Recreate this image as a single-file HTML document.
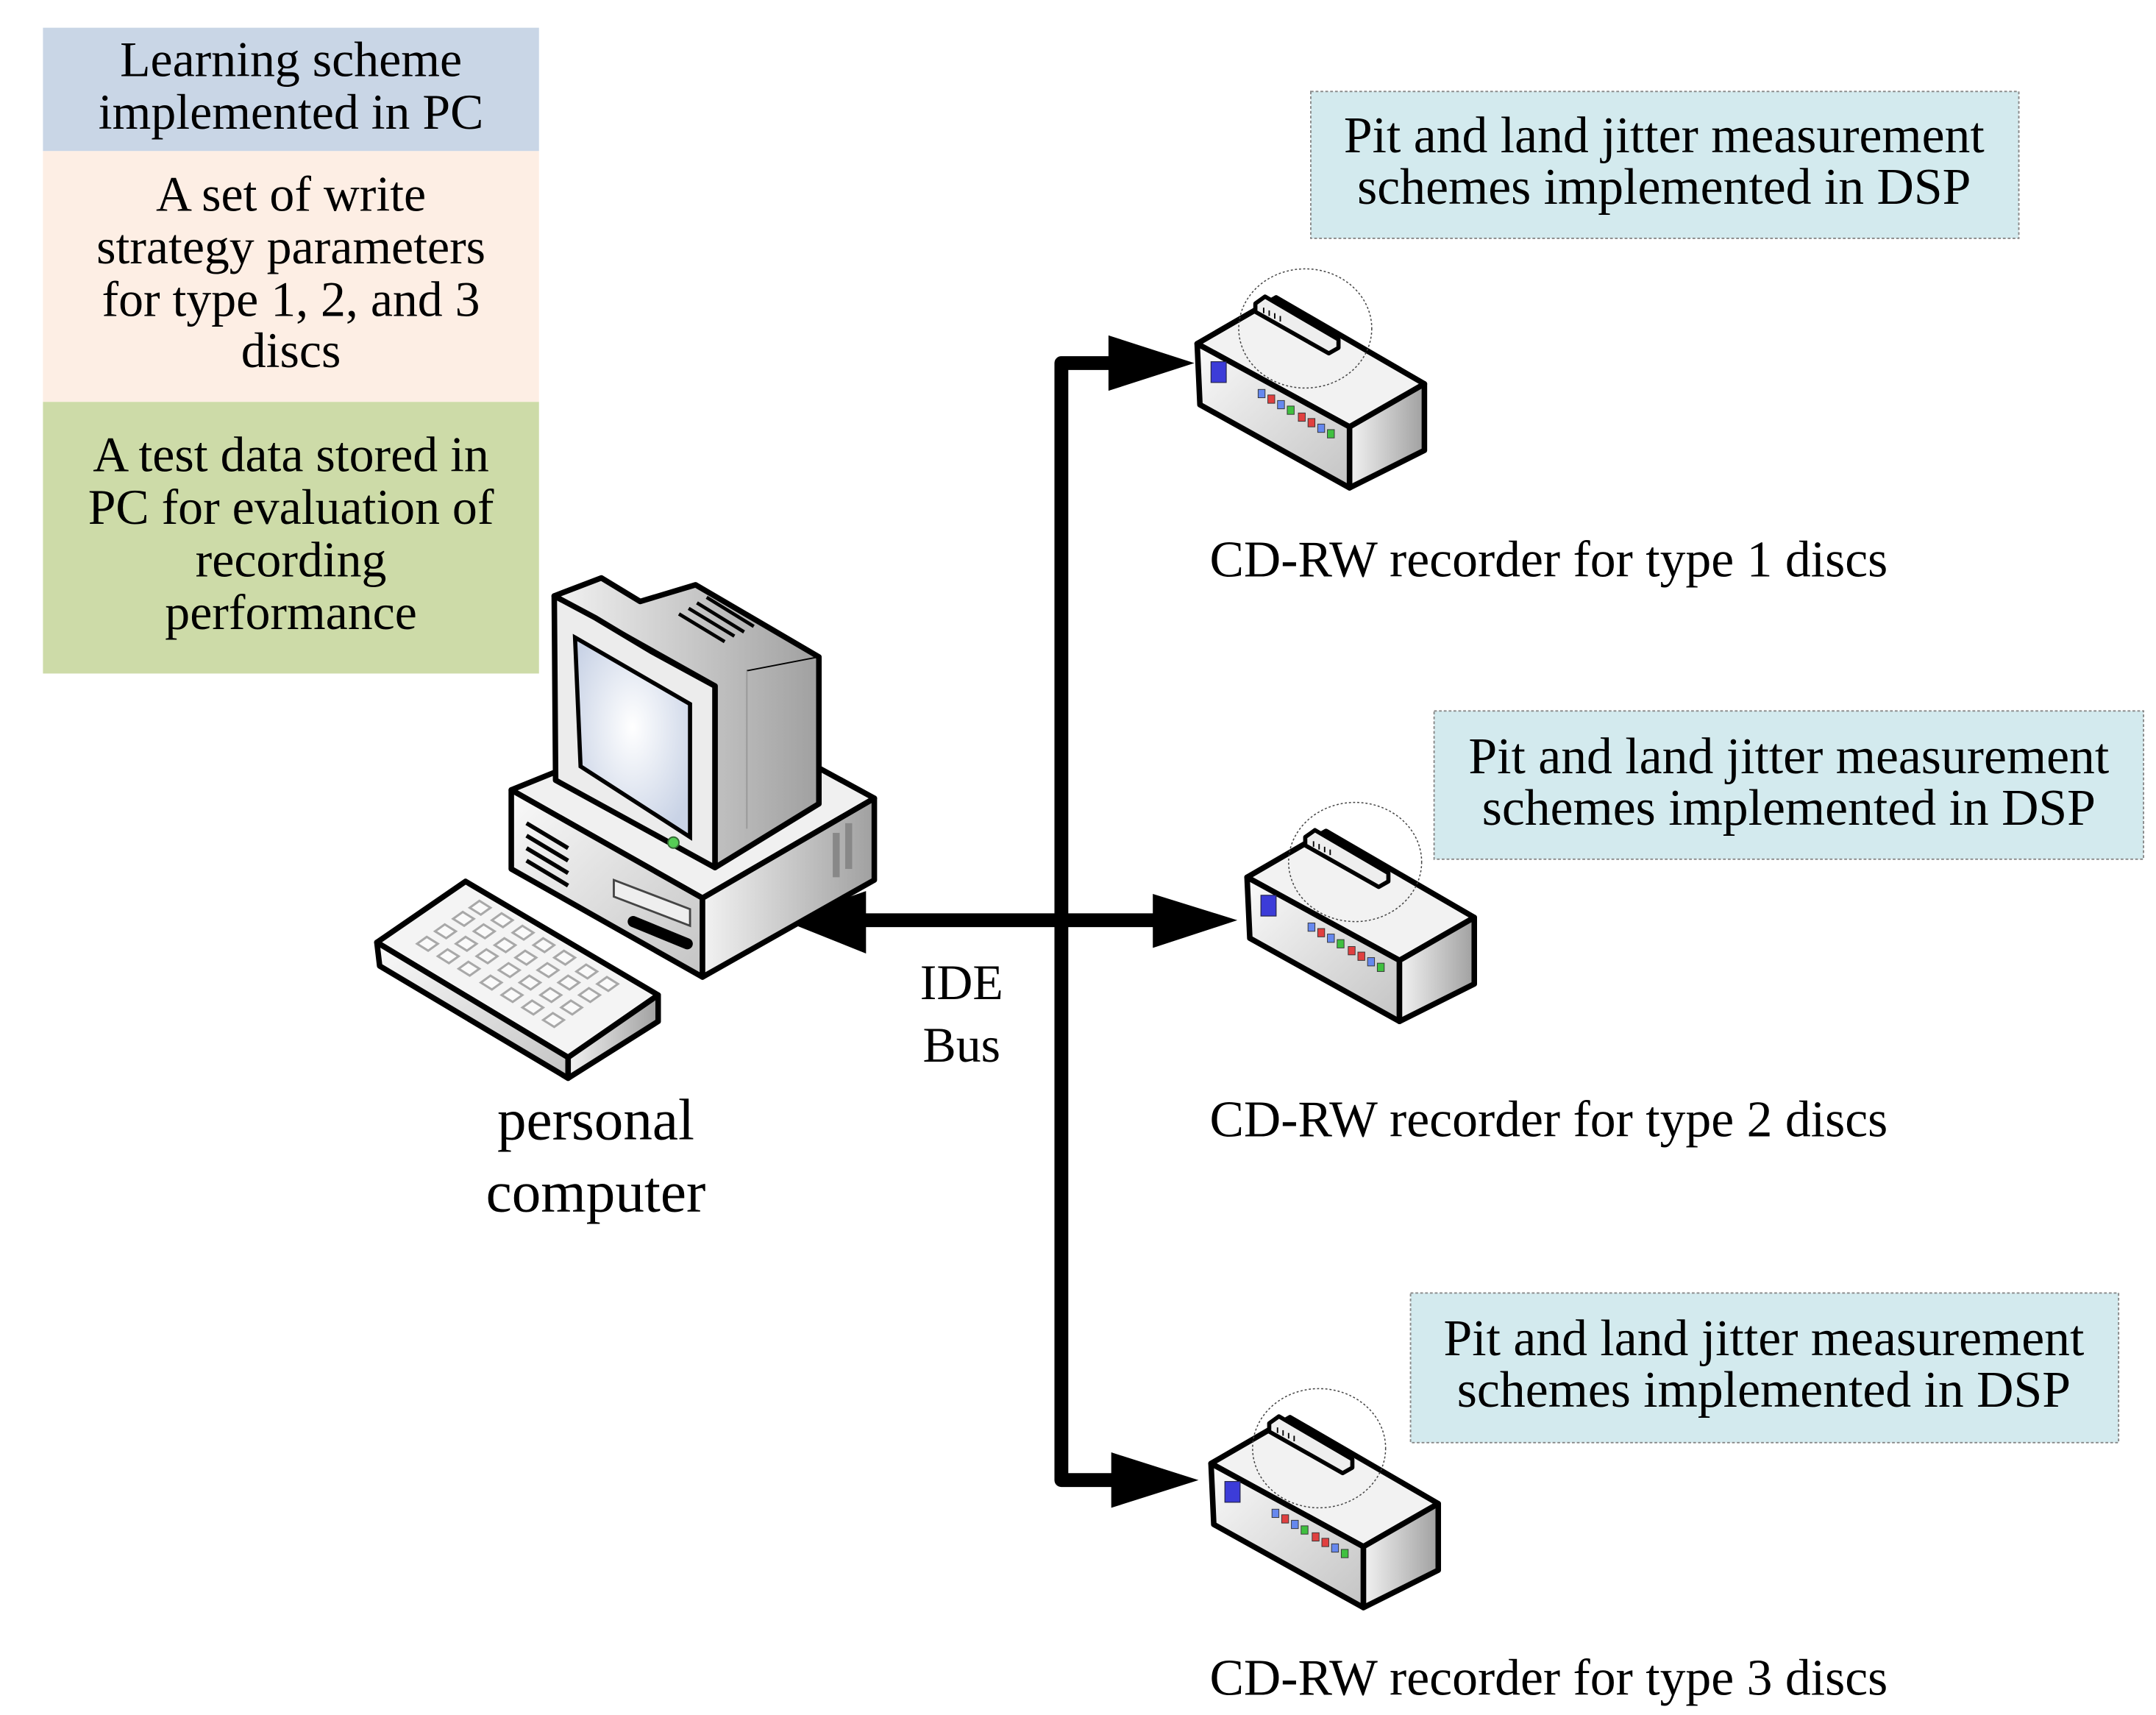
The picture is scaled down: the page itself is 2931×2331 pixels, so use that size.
<!DOCTYPE html>
<html><head><style>html,body{margin:0;padding:0;background:#fff}svg{display:block}</style></head>
<body>
<svg width="2931" height="2331" viewBox="0 0 1556 1237.5" preserveAspectRatio="none" xmlns="http://www.w3.org/2000/svg">
<defs>
<linearGradient id="g1" x1="0" y1="0" x2="1" y2="1"><stop offset="0" stop-color="#fafafa"/><stop offset="1" stop-color="#c4c4c4"/></linearGradient>
<linearGradient id="g2" x1="0" y1="0" x2="1" y2="0"><stop offset="0" stop-color="#f2f2f2"/><stop offset="1" stop-color="#a0a0a0"/></linearGradient>
<radialGradient id="scr" cx="0.5" cy="0.45" r="0.6"><stop offset="0" stop-color="#ffffff"/><stop offset="1" stop-color="#c9d3e6"/></radialGradient>
<polygon id="key" points="0,0 8,5 15,0 7,-5" fill="#fafafa" stroke="#a8a8a8" stroke-width="1.6"/>
<g id="rec">
<polygon points="864,248 921,215 1028,277 974,308" fill="#f2f2f2" stroke="#000" stroke-width="4" stroke-linejoin="round"/>
<polygon points="864,248 974,308 974,352 866,292" fill="url(#g1)" stroke="#000" stroke-width="4" stroke-linejoin="round"/>
<polygon points="974,308 1028,277 1028,325 974,352" fill="url(#g2)" stroke="#000" stroke-width="4" stroke-linejoin="round"/>
<polygon points="906,219 913,214 966,245 966,251 959,255 906,225" fill="#eee" stroke="#000" stroke-width="3" stroke-linejoin="round"/>
<g stroke="#000" stroke-width="1"><line x1="912" y1="222" x2="912" y2="226"/><line x1="916" y1="224" x2="916" y2="228"/><line x1="920" y1="226" x2="920" y2="230"/><line x1="924" y1="228" x2="924" y2="232"/></g>
<ellipse cx="942" cy="237" rx="48" ry="43" fill="none" stroke="#444" stroke-width="0.8" stroke-dasharray="1.5,1.5"/>
<rect x="874" y="261" width="11" height="15" fill="#3c3cd8" stroke="#224" stroke-width="0.6"/>
<g stroke="#333" stroke-width="0.5">
<rect x="908" y="281" width="5" height="6" fill="#6688ee"/><rect x="915" y="285" width="5" height="6" fill="#e04040"/>
<rect x="922" y="289" width="5" height="6" fill="#6688ee"/><rect x="929" y="293" width="5" height="6" fill="#40c040"/>
<rect x="937" y="298" width="5" height="6" fill="#e04040"/><rect x="944" y="302" width="5" height="6" fill="#e04040"/>
<rect x="951" y="306" width="5" height="6" fill="#6688ee"/><rect x="958" y="310" width="5" height="6" fill="#40c040"/>
</g>
</g>
</defs>
<rect width="1556" height="1237.5" fill="#fff"/>
<rect x="31" y="20" width="358" height="89" fill="#c9d6e6"/>
<rect x="31" y="109" width="358" height="181" fill="#fdeee4"/>
<rect x="31" y="290" width="358" height="196" fill="#cddba8"/>
<g font-family="Liberation Serif, serif" font-size="36" text-anchor="middle" fill="#000">
<text x="210" y="55">Learning scheme</text>
<text x="210" y="93">implemented in PC</text>
<text x="210" y="152">A set of write</text>
<text x="210" y="190">strategy parameters</text>
<text x="210" y="228">for type 1, 2, and 3</text>
<text x="210" y="265">discs</text>
<text x="210" y="340">A test data stored in</text>
<text x="210" y="378">PC for evaluation of</text>
<text x="210" y="416">recording</text>
<text x="210" y="454">performance</text>
</g>
<g fill="#d3eaee" stroke="#888" stroke-width="1" stroke-dasharray="2,1.5">
<rect x="946" y="66" width="511" height="106"/>
<rect x="1035" y="513" width="512" height="107"/>
<rect x="1018" y="933" width="511" height="108"/>
</g>
<g font-family="Liberation Serif, serif" font-size="37" text-anchor="middle" fill="#000">
<text x="1201" y="110">Pit and land jitter measurement</text>
<text x="1201" y="147">schemes implemented in DSP</text>
<text x="1291" y="558">Pit and land jitter measurement</text>
<text x="1291" y="595">schemes implemented in DSP</text>
<text x="1273" y="978">Pit and land jitter measurement</text>
<text x="1273" y="1015">schemes implemented in DSP</text>
</g>
<g font-family="Liberation Serif, serif" font-size="37" fill="#000">
<text x="873" y="416">CD-RW recorder for type 1 discs</text>
<text x="873" y="820">CD-RW recorder for type 2 discs</text>
<text x="873" y="1223">CD-RW recorder for type 3 discs</text>
</g>
<g font-family="Liberation Serif, serif" font-size="36" text-anchor="middle">
<text x="694" y="721">IDE</text><text x="694" y="766">Bus</text>
</g>
<g font-family="Liberation Serif, serif" font-size="42" text-anchor="middle">
<text x="430" y="822">personal</text><text x="430" y="874">computer</text>
</g>
<path d="M805,262 H766 V1068 H805" fill="none" stroke="#000" stroke-width="10" stroke-linejoin="round"/>
<line x1="620" y1="664" x2="835" y2="664" stroke="#000" stroke-width="10"/>
<polygon points="800,242 862,262 800,282" fill="#000"/>
<polygon points="832,645 893,664 832,684" fill="#000"/>
<polygon points="625,643 565,664 625,688" fill="#000"/>
<polygon points="802,1048 865,1068 802,1088" fill="#000"/>
<use href="#rec"/>
<use href="#rec" transform="translate(36,385)"/>
<use href="#rec" transform="translate(10,808)"/>
<g stroke="#000" stroke-width="4" stroke-linejoin="round">
<polygon points="369,570 401,557 587,552 631,576 507,648" fill="#f0f0f0"/>
<polygon points="369,570 507,648 507,705 369,627" fill="url(#g1)"/>
<polygon points="507,648 631,576 631,635 507,705" fill="url(#g2)"/>
</g>
<g stroke="#000" stroke-width="3">
<line x1="380" y1="594" x2="410" y2="612"/><line x1="380" y1="603" x2="410" y2="621"/>
<line x1="380" y1="612" x2="410" y2="630"/><line x1="380" y1="621" x2="410" y2="639"/>
</g>
<polygon points="443,635 498,656 498,668 443,647" fill="#eee" stroke="#444" stroke-width="1.5"/>
<line x1="457" y1="665" x2="496" y2="681" stroke="#000" stroke-width="8" stroke-linecap="round"/>
<rect x="601" y="601" width="5" height="32" fill="#888"/><rect x="610" y="594" width="5" height="33" fill="#888"/>
<g stroke="#000" stroke-width="4" stroke-linejoin="round">
<polygon points="400,430 434,417 462,434 502,422 591,474 591,580 516,626 516,495" fill="url(#g2)"/>
<polygon points="400,430 430,446 470,470 516,495 516,626 401,563" fill="#ececec"/>
</g>
<line x1="539" y1="484" x2="591" y2="474" stroke="#000" stroke-width="1"/>
<line x1="539" y1="484" x2="539" y2="598" stroke="#999" stroke-width="1"/>
<polygon points="415,460 498,508 498,604 419,553" fill="url(#scr)" stroke="#000" stroke-width="3"/>
<circle cx="486" cy="608" r="4" fill="#5c5" stroke="#363" stroke-width="1"/>
<g stroke="#000" stroke-width="2.5">
<line x1="490" y1="443" x2="523" y2="463"/><line x1="497" y1="439" x2="530" y2="459"/>
<line x1="503" y1="435" x2="537" y2="456"/><line x1="510" y1="431" x2="544" y2="452"/>
</g>
<g stroke="#000" stroke-width="4" stroke-linejoin="round">
<polygon points="272,680 336,636 475,718 410,763" fill="#f4f4f4"/>
<polygon points="272,680 410,763 410,778 274,697" fill="url(#g1)"/>
<polygon points="410,763 475,718 475,737 410,778" fill="url(#g2)"/>
</g>
<use href="#key" x="301" y="681"/><use href="#key" x="316" y="690"/><use href="#key" x="331" y="699"/><use href="#key" x="347" y="709"/><use href="#key" x="362" y="718"/><use href="#key" x="377" y="727"/><use href="#key" x="392" y="736"/>
<use href="#key" x="314" y="672"/><use href="#key" x="329" y="681"/><use href="#key" x="344" y="690"/><use href="#key" x="360" y="700"/><use href="#key" x="375" y="709"/><use href="#key" x="390" y="718"/><use href="#key" x="405" y="727"/>
<use href="#key" x="327" y="663"/><use href="#key" x="342" y="672"/><use href="#key" x="357" y="682"/><use href="#key" x="372" y="691"/><use href="#key" x="388" y="700"/><use href="#key" x="403" y="709"/><use href="#key" x="418" y="718"/>
<use href="#key" x="339" y="655"/><use href="#key" x="355" y="664"/><use href="#key" x="370" y="673"/><use href="#key" x="385" y="682"/><use href="#key" x="400" y="691"/><use href="#key" x="416" y="701"/><use href="#key" x="431" y="710"/>
</svg>
</body></html>
